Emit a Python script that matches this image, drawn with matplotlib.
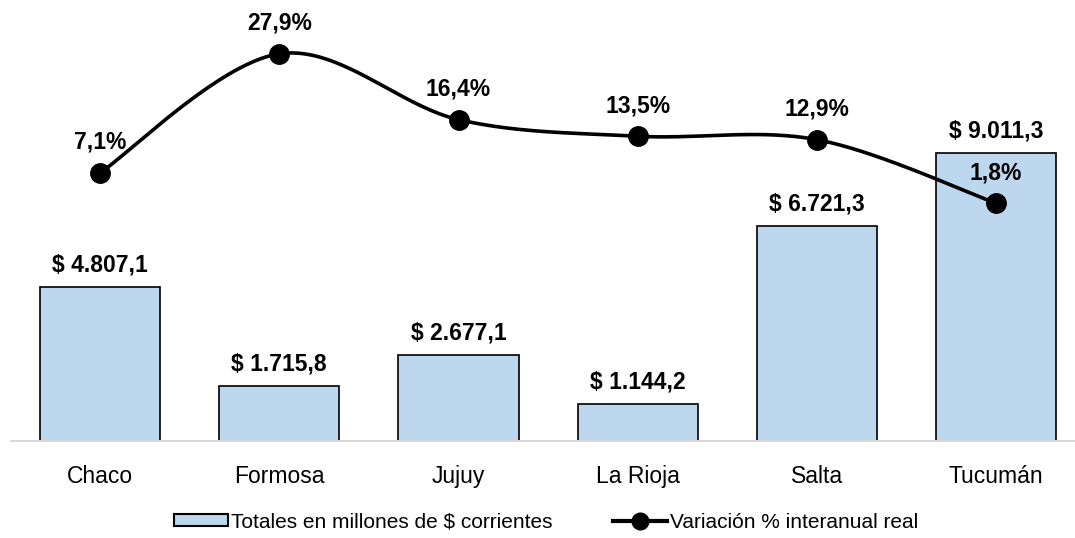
import numpy as np
import matplotlib
matplotlib.use("Agg")
import matplotlib.pyplot as plt
from matplotlib.patches import Patch
from matplotlib.lines import Line2D

provincias = ["Chaco", "Formosa", "Jujuy", "La Rioja", "Salta", "Tucumán"]
totales = [4807.1, 1715.8, 2677.1, 1144.2, 6721.3, 9011.3]
variacion = [7.1, 27.9, 16.4, 13.5, 12.9, 1.8]

plt.rcParams["font.family"] = ["Liberation Sans", "DejaVu Sans"]

AZUL = "#BDD7EE"
GRIS = "#D9D9D9"


def fmt_pesos(v):
    s = f"{v:,.1f}"  # 4,807.1
    s = s.replace(",", "X").replace(".", ",").replace("X", ".")
    return f"$ {s}"


def curva_suave(x, y, n=40):
    # suavizado tipo Excel (Bezier con puntos de control a 1/6)
    pts = np.column_stack([x, y]).astype(float)
    salida = []
    for i in range(len(pts) - 1):
        p0 = pts[i - 1] if i > 0 else pts[i]
        p1 = pts[i]
        p2 = pts[i + 1]
        p3 = pts[i + 2] if i + 2 < len(pts) else pts[i + 1]
        c1 = p1 + (p2 - p0) / 6.0
        c2 = p2 - (p3 - p1) / 6.0
        t = np.linspace(0, 1, n)[:, None]
        seg = ((1 - t) ** 3) * p1 + 3 * ((1 - t) ** 2) * t * c1 + 3 * (1 - t) * t ** 2 * c2 + t ** 3 * p2
        salida.append(seg if i == 0 else seg[1:])
    seg = np.vstack(salida)
    return seg[:, 0], seg[:, 1]


fig = plt.figure(figsize=(10.75, 5.38), dpi=100)
ax = fig.add_axes([10.5 / 1075, 97 / 538, 1075.2 / 1075, 441 / 538])
x = np.arange(len(provincias))

ax.bar(x, totales, width=0.67, color=AZUL, edgecolor="black", linewidth=1.2, zorder=2)
ax.set_xlim(-0.5, 5.5)
ax.set_ylim(0, 13800)
ax.set_yticks([])
for lado in ["top", "right", "left"]:
    ax.spines[lado].set_visible(False)
ax.spines["bottom"].set_color(GRIS)
ax.spines["bottom"].set_linewidth(1.5)
ax.set_xticks(x)
ax.set_xticklabels(provincias, fontsize=16.5)
ax.tick_params(axis="x", length=0, pad=17)

for xi, v in zip(x, totales):
    ax.annotate(fmt_pesos(v), (xi, v), xytext=(0, 16), textcoords="offset points",
                ha="center", va="center", fontsize=16.5, fontweight="bold")

ax2 = ax.twinx()
ax2.set_ylim(-39.75, 37.3)
ax2.set_yticks([])
for lado in ["top", "right", "left", "bottom"]:
    ax2.spines[lado].set_visible(False)

xs, ys = curva_suave(x, variacion)
ax2.plot(xs, ys, color="black", linewidth=2.6, zorder=3)
ax2.plot(x, variacion, "o", color="black", markersize=14, zorder=4)
for xi, v in zip(x, variacion):
    txt = f"{v:.1f}%".replace(".", ",")
    ax2.annotate(txt, (xi, v), xytext=(0, 22), textcoords="offset points",
                 ha="center", va="center", fontsize=16.5, fontweight="bold")

handles = [
    Patch(facecolor=AZUL, edgecolor="black", linewidth=1.5),
    Line2D([0], [0], color="black", linewidth=3, marker="o", markersize=12),
]
fig.legend(handles, ["Totales en millones de $ corrientes", "Variación % interanual real"],
           loc="center left", bbox_to_anchor=(174 / 1075, 1 - 522 / 538), ncol=2, frameon=False,
           fontsize=15, handlelength=2.6, handleheight=0.55, handletextpad=0.15,
           columnspacing=2.9, borderpad=0, borderaxespad=0)

fig.savefig("out.png", dpi=100)
